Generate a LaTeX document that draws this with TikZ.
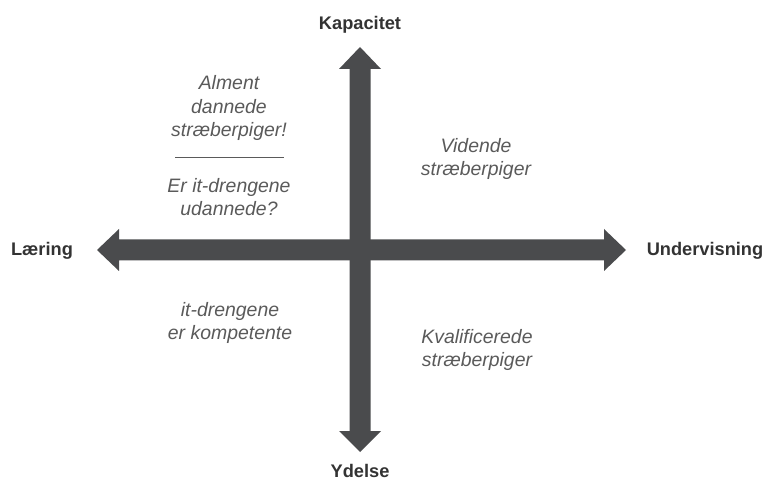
\documentclass[tikz,border=0pt]{standalone}
\usepackage{fontspec}
\setmainfont{Liberation Sans}
\definecolor{arr}{HTML}{4A4B4D}
\definecolor{lab}{HTML}{333333}
\definecolor{txt}{HTML}{5A5A5A}
\begin{document}
\begin{tikzpicture}[x=1bp,y=-1bp,
  axislabel/.style={font=\fontsize{18.3}{22}\selectfont\bfseries, text=lab, inner sep=0pt, anchor=base},
  quad/.style={font=\fontsize{19.5}{23.5}\selectfont\itshape, text=txt, align=center, inner sep=0pt},
  arrowbody/.style={fill=arr, draw=none}]
\useasboundingbox (0,0) rectangle (770,482);
% arrows
\fill[arrowbody] (349.5,69) -- (339,69) -- (360,47) -- (381,69) -- (370.5,69)
  -- (370.5,431) -- (381,431) -- (360,452) -- (339,431) -- (349.5,431) -- cycle;
\fill[arrowbody] (119,239.5) -- (119,229) -- (97,250) -- (119,271) -- (119,260.5)
  -- (604,260.5) -- (604,271) -- (626,250) -- (604,229) -- (604,239.5) -- cycle;
% axis labels
\node[axislabel] (kap) at (360,30) {Kapacitet};
\node[axislabel] (yde) at (360,477.5) {Ydelse};
\node[axislabel] (laer) at (42,256) {Læring};
\node[axislabel] (und) at (705,256) {Undervisning};
% quadrant texts
\node[quad] (alm) at (229,108) {Alment\\dannede\\stræberpiger!};
\node[quad] (erit) at (229,197) {Er it-drengene\\udannede?};
\coordinate (l1) at (175,157);
\coordinate (l2) at (284,157);
\draw[txt, line width=0.8bp] (l1) -- (l2);
\node[quad] (vid) at (476,159) {Vidende\\stræberpiger};
\node[quad] (itd) at (230,323) {it-drengene\\er kompetente};
\node[quad] (kva) at (477,350) {Kvalificerede\\stræberpiger};
\end{tikzpicture}
\end{document}
